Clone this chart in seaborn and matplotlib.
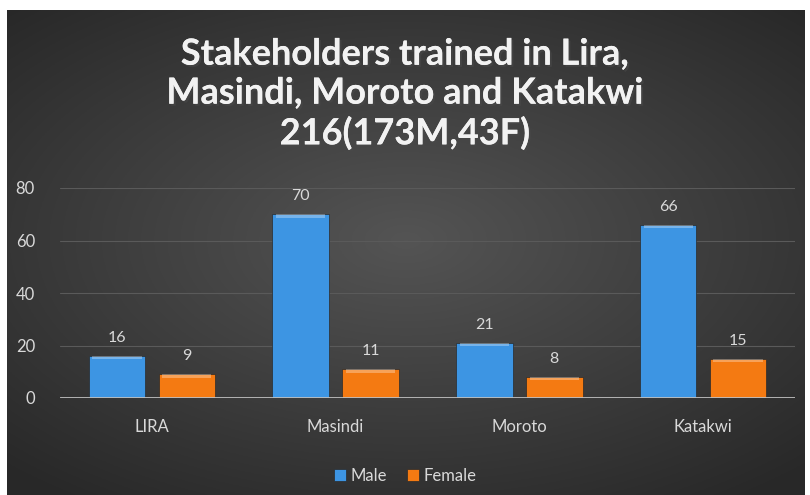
import numpy as np
import pandas as pd
import matplotlib.pyplot as plt
import matplotlib.patheffects as pe
import seaborn as sns

districts = ["LIRA", "Masindi", "Moroto", "Katakwi"]
male = [16, 70, 21, 66]
female = [9, 11, 8, 15]
y_ticks = [0, 20, 40, 60, 80]
title = "Stakeholders trained in Lira,\nMasindi, Moroto and Katakwi\n216(173M,43F)"

df = pd.DataFrame({
    "District": districts * 2,
    "Gender": ["Male"] * len(male) + ["Female"] * len(female),
    "Count": male + female,
})

sns.set_style("dark")
plt.rcParams["font.family"] = ["Lato", "DejaVu Sans"]
txt_col = "#d9d9d9"

fig = plt.figure(figsize=(8.1, 4.95), dpi=100)
fig.patch.set_facecolor("white")

# dark radial-gradient chart background
bg = fig.add_axes([7 / 810, 0, 798 / 810, 485 / 495])
yy, xx = np.mgrid[-1:1:300j, -1:1:500j]
r = np.sqrt((xx / 1.1) ** 2 + ((yy + 0.05) / 1.0) ** 2)
shade = 0.33 - 0.17 * np.clip(r, 0, 1.3) / 1.3
bg.imshow(np.dstack([shade] * 3), aspect="auto", extent=[0, 1, 0, 1])
bg.set_axis_off()

ax = fig.add_axes([60 / 810, 97 / 495, 735 / 810, 210 / 495])
ax.patch.set_alpha(0)
sns.barplot(data=df, x="District", y="Count", hue="Gender",
            palette={"Male": "#3d95e3", "Female": "#f47a12"}, saturation=1,
            width=0.76, gap=0.19, ax=ax, legend=True,
            edgecolor="#2a2a2a", linewidth=0.5)

for cont in ax.containers:
    ax.bar_label(cont, padding=8, color=txt_col, fontsize=11.5)
    for bar in cont:
        x0, w, h = bar.get_x(), bar.get_width(), bar.get_height()
        ax.fill_between([x0 + 0.02, x0 + w - 0.02], h - 1.3, h,
                        color="white", alpha=0.3, linewidth=0)

ax.set_ylim(0, 80)
ax.set_xlim(-0.5, 3.5)
ax.set_yticks(y_ticks)
ax.yaxis.grid(True, color="#5a5a5a", linewidth=0.8)
ax.set_axisbelow(True)
ax.axhline(0, color="#bfbfbf", linewidth=2)
for s in ax.spines.values():
    s.set_visible(False)
ax.tick_params(axis="both", colors=txt_col, labelsize=12, length=0)
ax.tick_params(axis="x", pad=15)
ax.tick_params(axis="y", pad=18)
ax.set_xlabel("")
ax.set_ylabel("")

leg = ax.legend(loc="upper center", bbox_to_anchor=(0.47, -0.26), ncol=2,
                frameon=False, fontsize=12, handlelength=0.7, handleheight=0.7,
                handletextpad=0.3, columnspacing=1.2)
for t in leg.get_texts():
    t.set_color(txt_col)

fig.text(0.5, 0.81, title, ha="center", va="center", color="#f2f2f2",
         fontsize=26, fontweight="bold", linespacing=1.22,
         path_effects=[pe.withSimplePatchShadow(offset=(1.5, -1.5), alpha=0.6),
                       pe.Normal()])

fig.savefig("out.png", dpi=100)
